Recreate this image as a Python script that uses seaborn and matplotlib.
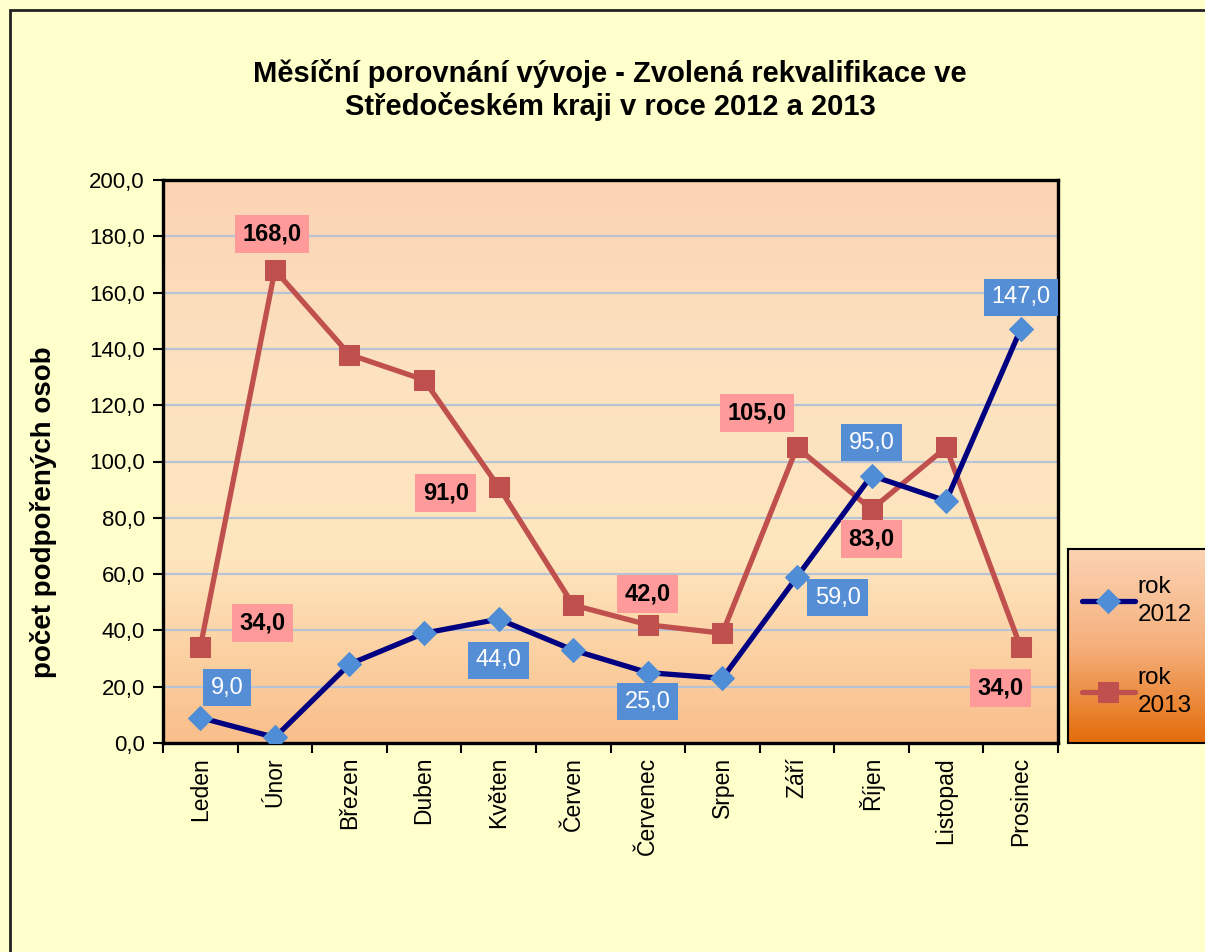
import numpy as np
import pandas as pd
import matplotlib
matplotlib.use("Agg")
import matplotlib.pyplot as plt
import seaborn as sns
from matplotlib.colors import LinearSegmentedColormap
from matplotlib.patches import Rectangle

# ---------------- data ----------------
months = ["Leden", "Únor", "Březen", "Duben", "Květen", "Červen",
          "Červenec", "Srpen", "Září", "Říjen", "Listopad", "Prosinec"]
rok2012 = [9, 2, 28, 39, 44, 33, 25, 23, 59, 95, 86, 147]
rok2013 = [34, 168, 138, 129, 91, 49, 42, 39, 105, 83, 105, 34]
series_names = ["rok\n2012", "rok\n2013"]
yticks = [0, 20, 40, 60, 80, 100, 120, 140, 160, 180, 200]
title = "Měsíční porovnání vývoje - Zvolená rekvalifikace ve\nStředočeském kraji v roce 2012 a 2013"
ylabel = "počet podpořených osob"

# which points carry a data label (month index -> label offset in pixels, screen dx, dy)
labels2012 = {0: (27, -30), 4: (0, 41), 6: (0, 29), 8: (41, 21), 9: (0, -33), 11: (0, -32)}
labels2013 = {0: (62, -24), 1: (-3, -36), 4: (-53, 6), 6: (0, -31), 8: (-40, -34), 9: (0, 30), 11: (-20, 41)}

# ---------------- style ----------------
sns.set_style("white")
plt.rcParams["font.family"] = ["Liberation Sans", "DejaVu Sans"]
plt.rcParams["text.color"] = "black"
plt.rcParams["xtick.color"] = "black"
plt.rcParams["ytick.color"] = "black"
plt.rcParams["axes.labelcolor"] = "black"

W, H = 1205, 952
fig = plt.figure(figsize=(W / 100, H / 100), dpi=100, facecolor="#FFFFCC")

L, R, T, B = 163, 1058, 180, 743
pos = [L / W, 1 - B / H, (R - L) / W, (B - T) / H]

# gradient background for plot area
bg = fig.add_axes(pos, zorder=0)
cmap_bg = LinearSegmentedColormap.from_list("bg", ["#F9BE8A", "#FEE6BE", "#FCE2C0", "#FBD3B3"])
bg.imshow(np.linspace(0, 1, 256).reshape(-1, 1), aspect="auto", cmap=cmap_bg,
          origin="lower", extent=(0, 1, 0, 1))
bg.set_axis_off()

ax = fig.add_axes(pos, zorder=1)
ax.patch.set_alpha(0)

df = pd.DataFrame({"mesic": months * 2,
                   "pocet": rok2012 + rok2013,
                   "rok": [series_names[0]] * 12 + [series_names[1]] * 12})

d12 = df[df["rok"] == series_names[0]]
d13 = df[df["rok"] == series_names[1]]

sns.lineplot(data=d13, x="mesic", y="pocet", ax=ax, sort=False, color="#C0504D",
             lw=3.8, marker="s", markersize=14, markerfacecolor="#C0504D",
             markeredgecolor="#C0504D", label=series_names[1], zorder=3)
sns.lineplot(data=d12, x="mesic", y="pocet", ax=ax, sort=False, color="#000080",
             lw=3.8, marker="D", markersize=12.5, markerfacecolor="#4F8DD6",
             markeredgecolor="#4F8DD6", label=series_names[0], zorder=4)

handles, labs = ax.get_legend_handles_labels()
ax.get_legend().remove()

ax.set_xlim(-0.5, 11.5)
ax.set_ylim(0, 200)
ax.set_yticks(yticks)
ax.set_yticklabels([f"{v:.1f}".replace(".", ",") for v in yticks], fontsize=16)
ax.set_xticks(range(len(months)))
ax.set_xticklabels(months, rotation=90, fontsize=16.5)
ax.set_xticks(np.arange(-0.5, len(months), 1), minor=True)
ax.set_xlabel("")
ax.set_ylabel("")

ax.yaxis.grid(True, color="#B7C3D5", lw=1.6)
ax.xaxis.grid(False)
ax.set_axisbelow(True)

ax.tick_params(axis="x", which="major", length=0, pad=10, bottom=True)
ax.tick_params(axis="x", which="minor", length=7, width=1.5, color="black",
               direction="out", bottom=True)
ax.tick_params(axis="y", which="major", length=7, width=1.5, color="black",
               direction="out", left=True, pad=6)
for s in ax.spines.values():
    s.set_visible(True)
    s.set_color("black")
    s.set_linewidth(2.4)

# data labels
for idx, (dx, dy) in labels2012.items():
    v = rok2012[idx]
    ax.annotate(f"{v:.1f}".replace(".", ","), xy=(idx, v), xytext=(dx, -dy),
                textcoords="offset pixels", ha="center", va="center",
                fontsize=17, color="white", zorder=6,
                bbox=dict(boxstyle="square,pad=0.32", fc="#558ED5", ec="none"))
for idx, (dx, dy) in labels2013.items():
    v = rok2013[idx]
    ax.annotate(f"{v:.1f}".replace(".", ","), xy=(idx, v), xytext=(dx, -dy),
                textcoords="offset pixels", ha="center", va="center",
                fontsize=17, fontweight="bold", color="black", zorder=6,
                bbox=dict(boxstyle="square,pad=0.32", fc="#FF9A9A", ec="none"))

# title and axis label
fig.text(610 / W, 1 - 90 / H, title, ha="center", va="center", fontsize=21,
         fontweight="bold", linespacing=1.15)
fig.text(44 / W, 1 - 512 / H, ylabel, rotation=90, ha="center", va="center",
         fontsize=20, fontweight="bold")

# legend box with gradient
lg = fig.add_axes([1068 / W, 1 - 743 / H, (1215 - 1068) / W, (743 - 549) / H], zorder=1)
cmap_lg = LinearSegmentedColormap.from_list("lg", ["#E46C0A", "#F5B07C", "#FBD3B3"])
lg.imshow(np.linspace(0, 1, 256).reshape(-1, 1), aspect="auto", cmap=cmap_lg,
          origin="lower", extent=(0, 1, 0, 1))
lg.set_xticks([])
lg.set_yticks([])
for s in lg.spines.values():
    s.set_color("black")
    s.set_linewidth(1.5)

order = [labs.index(series_names[0]), labs.index(series_names[1])]
leg = fig.legend([handles[i] for i in order], [labs[i] for i in order],
                 loc="upper left", bbox_to_anchor=(1072 / W, 1 - 566 / H),
                 frameon=False, fontsize=17.5, handlelength=2.2, handletextpad=0.1,
                 labelspacing=1.7, borderaxespad=0)
for t in leg.get_texts():
    t.set_linespacing(1.35)
leg.set_zorder(5)

# figure border
fig.patches.append(Rectangle((10 / W, -0.05), 1.1, 1 - 10 / H + 0.05,
                             transform=fig.transFigure, fill=False,
                             ec="#222222", lw=2))

fig.savefig("out.png", dpi=100, facecolor=fig.get_facecolor())
